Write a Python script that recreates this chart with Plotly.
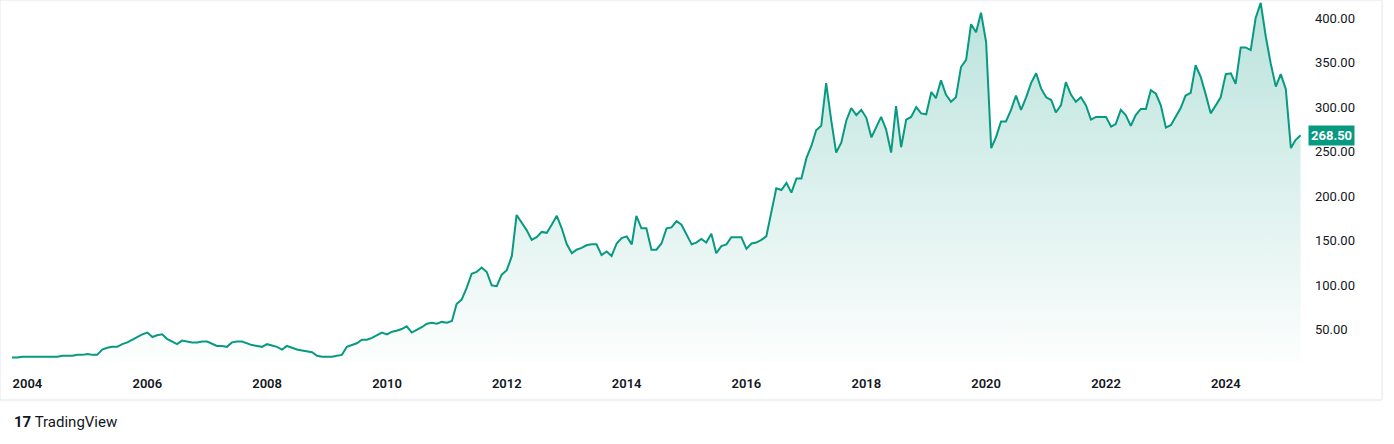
import pandas as pd
import plotly.graph_objects as go

start_month = "2003-09-01"
prices = [
    18, 19, 19, 20,
    20, 20, 20, 20, 20, 20, 20, 21, 21, 21, 22, 22,
    23, 22, 22, 28, 30, 31, 31, 34, 36, 39, 42, 45,
    47, 42, 44, 45, 40, 37, 34, 38, 37, 36, 36, 37,
    37, 34, 32, 32, 31, 36, 37, 37, 35, 33, 32, 31,
    34, 32, 31, 28, 32, 30, 28, 27, 26, 25, 21, 20,
    20, 20, 21, 22, 31, 33, 35, 39, 39, 41, 44, 47,
    45, 48, 49, 51, 54, 47, 50, 53, 57, 58, 57, 59,
    58, 60, 79, 84, 97, 113, 115, 120, 115, 100, 99, 112,
    117, 133, 179, 171, 162, 151, 154, 160, 159, 168, 178, 164,
    146, 136, 140, 142, 145, 146, 146, 134, 138, 133, 147, 153, 155, 146,
    178, 164, 164, 140, 140, 147, 164, 165, 172, 168, 157, 146,
    148, 152, 148, 158, 136, 144, 146, 154, 154, 154, 141, 147,
    148, 151, 155, 184, 209, 207, 215, 204, 220, 220, 243, 257,
    274, 279, 327, 285, 249, 260, 285, 299, 291, 297, 288, 266,
    277, 289, 275, 249, 301, 255, 286, 289, 300, 293, 292, 317,
    310, 330, 314, 306, 311, 345, 353, 393, 384, 406, 373, 254,
    266, 284, 284, 297, 313, 297, 311, 327, 338, 321,
    311, 308, 294, 302, 328, 314, 306, 311, 302, 286,
    289, 289, 289, 278, 281, 297, 291, 279, 291, 298, 298,
    319, 315, 302, 277, 280, 289, 299, 313, 316, 347,
    334, 314, 293, 302, 311, 337, 338, 326, 367, 367,
    364, 400, 417, 379, 349, 323, 337, 320, 254, 263,
    268.5,
]
y_ticks = [50, 100, 150, 200, 250, 300, 350, 400]
y_tick_labels = [f"{v:.2f}" for v in y_ticks]
last_label = "268.50"

dates = pd.date_range(start_month, periods=len(prices), freq="MS")
green = "#089981"

fig = go.Figure()
fig.add_trace(go.Scatter(
    x=dates, y=prices, mode="lines",
    line=dict(color=green, width=2),
    fill="tozeroy",
    fillgradient=dict(type="vertical",
                      colorscale=[[0, "rgba(8,153,129,0.0)"], [1, "rgba(8,153,129,0.28)"]]),
    hoverinfo="x+y",
))

font = dict(family="Roboto, 'Noto Sans', sans-serif", size=13, color="#131722")
fig.update_layout(
    width=1394, height=444,
    margin=dict(l=12, r=88, t=0, b=82),
    paper_bgcolor="white", plot_bgcolor="white",
    showlegend=False, font=font,
    xaxis=dict(range=["2003-09-29", "2025-05-04"], dtick="M24", tick0="2004-01-01",
               tickformat="%Y", showgrid=False, zeroline=False, showline=False,
               ticks="", ticklabelstandoff=12,
               tickfont=dict(size=13, color="#131722", weight=600)),
    yaxis=dict(side="right", range=[14, 420.2], tickvals=y_ticks, ticktext=y_tick_labels,
               showgrid=False, zeroline=False, showline=False, ticks="",
               ticklabelstandoff=8, tickfont=dict(size=13, color="#131722")),
)
# frame
fig.add_shape(type="rect", xref="paper", yref="paper", x0=-0.0093, x1=1.0588,
              y0=-0.105, y1=1.0, line=dict(color="#e0e3eb", width=1))
fig.add_annotation(xref="paper", yref="y", x=1.0, y=prices[-1], xanchor="left",
                   text=f"<b>{last_label}</b>", showarrow=False, bgcolor=green,
                   font=dict(color="white", size=13), borderpad=2, xshift=2)
fig.add_annotation(xref="paper", yref="paper", x=0, y=-0.166, xanchor="left", yanchor="middle",
                   text="<b>17</b> TradingView", showarrow=False,
                   font=dict(size=15, color="#131722"))
fig.write_html("out.html", config={"displayModeBar": False},
               post_script="document.body.style.margin='0';")
